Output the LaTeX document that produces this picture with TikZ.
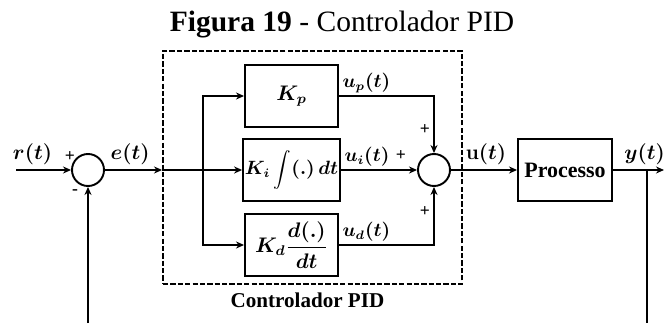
\documentclass[tikz,border=0pt]{standalone}
\usepackage{fontspec}
\setmainfont{Liberation Serif}
\usepackage{tikz}
\usetikzlibrary{arrows.meta, positioning}

\begin{document}
\begin{tikzpicture}[
    every node/.style={font=\fontsize{10}{12}\selectfont},
    block/.style={rectangle, draw=black, line width=1.1pt, minimum width=1.86cm, minimum height=1.25cm, inner sep=1pt, align=center, font=\fontsize{11.5}{13}\selectfont\boldmath},
    sumnode/.style={circle, draw=black, line width=1.1pt, minimum size=0.64cm, inner sep=0pt},
    pidbox/.style={rectangle, draw=black, line width=1.1pt, dash pattern=on 3pt off 1.2pt, minimum width=5.98cm, minimum height=4.66cm},
    flow/.style={-{Stealth[length=1.6mm, width=1.4mm]}, line width=1.1pt},
    wire/.style={line width=1.1pt},
    slab/.style={font=\fontsize{11.5}{13}\selectfont\boldmath, inner sep=2.5pt},
    ulab/.style={font=\fontsize{10.5}{12}\selectfont\boldmath, inner sep=1.5pt},
    sgn/.style={font=\fontsize{10}{11}\selectfont\bfseries, inner sep=0pt}
]
\useasboundingbox (0,0) rectangle (13.3,6.46);

% Title
\node[anchor=base, font=\fontsize{16.8}{19}\selectfont] (title) at (6.84,5.84) {\textbf{Figura 19} - Controlador PID};

% Controller frame
\node[pidbox] (pid) at (6.25,3.11) {};
\node[below=1pt of pid, xshift=-0.1cm, font=\fontsize{12}{14}\selectfont\bfseries] (pidlab) {Controlador PID};

% Summing junctions and blocks
\node[sumnode] (sum1) at (1.76,3.06) {};
\node[sumnode] (sum2) at (8.68,3.06) {};
\node[block] (kp) at (5.83,4.54) {$K_p$};
\node[block, font=\fontsize{10.5}{12}\selectfont\boldmath] (ki) at (5.83,3.06) {$K_i\displaystyle\int(.)\,dt$};
\node[block] (kd) at (5.83,1.56) {$K_d\displaystyle\frac{d(.)}{dt}$};
\node[block, minimum width=1.88cm, font=\fontsize{12.5}{14}\selectfont\bfseries] (proc) at (11.30,3.06) {Processo};

% Free ends
\coordinate (rin) at (0.32,3.06);
\coordinate (br) at (4.06,3.06);
\coordinate (ybr) at (12.94,3.06);
\coordinate (yend) at (13.28,3.06);
\coordinate (bot) at (0,0);

% Signs
\node[sgn] (s1a) at ([shift={(-0.36,0.26)}]sum1.center) {+};
\node[sgn] (s1b) at ([shift={(-0.26,-0.44)}]sum1.center) {-};
\node[sgn] (s2a) at ([shift={(-0.18,0.80)}]sum2.center) {+};
\node[sgn] (s2b) at ([shift={(-0.66,0.28)}]sum2.center) {+};
\node[sgn] (s2c) at ([shift={(-0.18,-0.84)}]sum2.center) {+};

% Reference and error
\draw[flow] (rin) -- (sum1)
    node[slab, pos=0.3, above] {$r(t)$};
\draw[flow] (sum1) -- (sum1 -| pid.west)
    node[slab, pos=0.44, above] {$e(t)$};

% Branches into the three terms
\draw[flow] (sum1 -| pid.west) -- (ki);
\draw[flow] (br) |- (kp);
\draw[flow] (br) |- (kd);

% Term outputs
\draw[flow] (kp) -| (sum2)
    node[ulab, pos=0, above right] {$u_p(t)$};
\draw[flow] (ki) -- (sum2)
    node[ulab, pos=0, above right] {$u_i(t)$};
\draw[flow] (kd) -| (sum2)
    node[ulab, pos=0, above right] {$u_d(t)$};

% Plant and output
\draw[flow] (sum2) -- (proc)
    node[slab, pos=0.53, above] {$\mathbf{u}(t)$};
\draw[flow] (proc) -- (yend)
    node[slab, pos=0.62, above] {$y(t)$};

% Feedback
\draw[wire] (ybr) -- (ybr |- bot);
\draw[flow] (sum1 |- bot) -- (sum1);
\end{tikzpicture}
\end{document}
